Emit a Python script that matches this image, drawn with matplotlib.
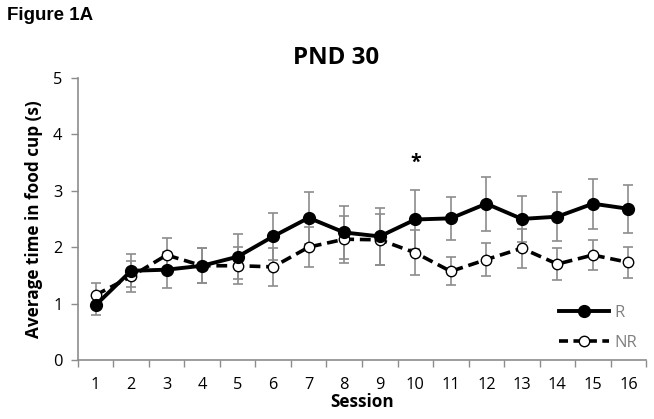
import matplotlib
matplotlib.use("Agg")
import matplotlib.pyplot as plt
from matplotlib.lines import Line2D

sessions = list(range(1, 17))
r_mean = [0.97, 1.58, 1.60, 1.67, 1.83, 2.19, 2.52, 2.26, 2.19, 2.49, 2.51, 2.77, 2.50, 2.54, 2.77, 2.68]
r_err = [0.18, 0.29, 0.32, 0.31, 0.40, 0.41, 0.46, 0.47, 0.51, 0.52, 0.38, 0.48, 0.41, 0.44, 0.44, 0.43]
nr_mean = [1.15, 1.48, 1.86, 1.67, 1.67, 1.65, 2.00, 2.14, 2.13, 1.90, 1.57, 1.78, 1.98, 1.70, 1.86, 1.73]
nr_err = [0.21, 0.27, 0.30, 0.31, 0.33, 0.34, 0.35, 0.42, 0.45, 0.40, 0.25, 0.30, 0.35, 0.28, 0.27, 0.28]
star_session = 10
star_y = 3.5

plt.rcParams['font.family'] = ['Open Sans', 'DejaVu Sans']

fig = plt.figure(figsize=(6.54, 4.19), dpi=100)
ax = fig.add_axes([0.119, 0.141, 0.869, 0.673])

gray = '#8c8c8c'
ax.errorbar(sessions, r_mean, yerr=r_err, fmt='none', ecolor=gray, elinewidth=1.2, capsize=3.5, capthick=1.2, zorder=2)
ax.errorbar(sessions, nr_mean, yerr=nr_err, fmt='none', ecolor=gray, elinewidth=1.2, capsize=3.5, capthick=1.2, zorder=2)
ax.plot(sessions, nr_mean, color='black', lw=2.6, ls=(0, (3, 1.6)), marker='o', ms=7.5,
        mfc='white', mec='black', mew=1.0, zorder=3, label='NR')
ax.plot(sessions, r_mean, color='black', lw=2.8, ls='-', marker='o', ms=8.5,
        mfc='black', mec='black', zorder=4, label='R')

ax.text(star_session, star_y, '*', ha='center', va='center', fontsize=14, fontweight='bold')

ax.set_xlim(0.5, 16.5)
ax.set_ylim(0, 5)
ax.set_xticks(sessions)
ax.set_xticks([s + 0.5 for s in [0] + sessions], minor=True)
ax.tick_params(axis='x', which='major', length=0, labelsize=11.8, pad=12)
ax.tick_params(axis='x', which='minor', length=5, direction='out', color=gray, width=1)
ax.set_yticks([0, 1, 2, 3, 4, 5])
ax.tick_params(axis='y', length=5, direction='out', color=gray, width=1, labelsize=11.8, pad=6)
for s in ['top', 'right']:
    ax.spines[s].set_visible(False)
for s in ['left', 'bottom']:
    ax.spines[s].set_color(gray)
    ax.spines[s].set_linewidth(1.2)

ax.set_xlabel('Session', fontsize=12.3, fontweight='bold', labelpad=0)
ax.set_ylabel('Average time in food cup (s)', fontsize=12.3, fontweight='bold', labelpad=7)
fig.text(0.514, 0.862, 'PND 30', ha='center', va='center', fontsize=17.4, fontweight='bold')
fig.text(0.010, 0.963, 'Figure 1A', ha='left', va='center', fontsize=13.5, fontweight='bold',
         family=['Liberation Sans', 'DejaVu Sans'])

handles = [Line2D([], [], color='black', lw=2.8, marker='o', ms=8.5, mfc='black'),
           Line2D([], [], color='black', lw=2.6, ls=(0, (2.5, 1.5)), marker='o', ms=7.5, mfc='white', mec='black', mew=1.0)]
leg = ax.legend(handles, ['R', 'NR'], loc='lower right', bbox_to_anchor=(1.0, 0.0), frameon=False,
                fontsize=12, handlelength=3.0, labelspacing=0.85, handletextpad=0.3, borderaxespad=0.15)
for t in leg.get_texts():
    t.set_color('#808080')

fig.savefig('out.png', dpi=100)
